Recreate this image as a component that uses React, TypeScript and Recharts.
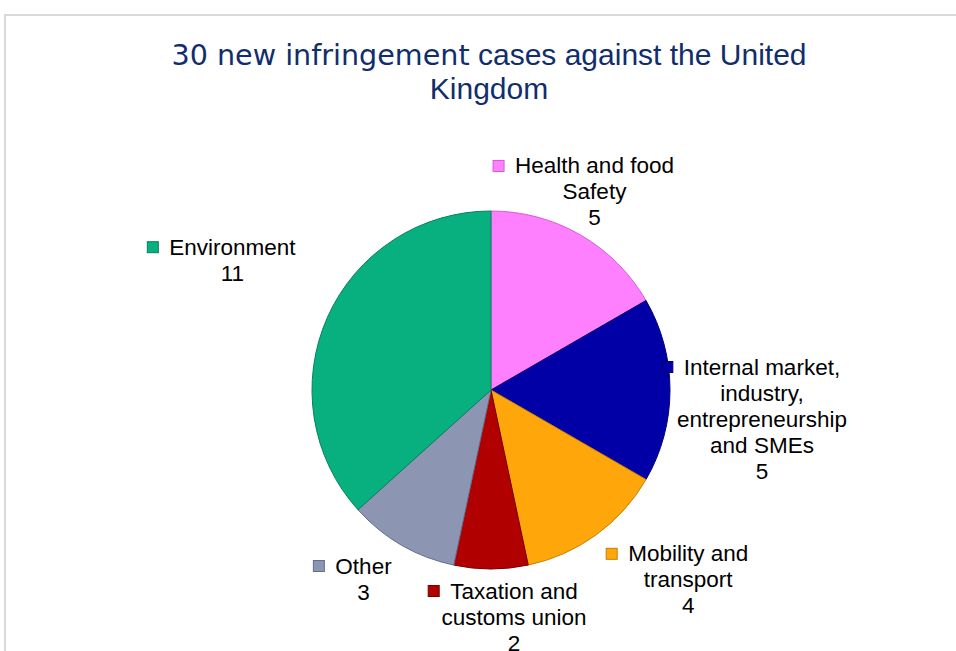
import React from "react";
import { PieChart, Pie, Cell } from "recharts";

// ---- data ----
const CATEGORIES = [
  "Health and food\nSafety",
  "Internal market,\nindustry,\nentrepreneurship\nand SMEs",
  "Mobility and\ntransport",
  "Taxation and\ncustoms union",
  "Other",
  "Environment",
];
const CASES = [5, 5, 4, 2, 3, 11];
const COLORS = ["#FF80FF", "#0000A6", "#FFA70A", "#B00000", "#8C95B2", "#08B080"];
const EDGE = ["#D65CD6", "#00006E", "#C97F00", "#7A0000", "#656D8A", "#06805C"];

// label block offsets from the slice's outer edge midpoint
const LABEL_OFFSETS = [
  [14, -43],
  [92, 29],
  [92, 45],
  [23, 48],
  [-38, 34],
  [-95, -57],
];

const TITLE_A = "30 new infringement";
const TITLE_B = " cases against the United";
const TITLE_2 = "Kingdom";

const FONT = "'Liberation Sans', Arial, sans-serif";
const LABEL_SIZE = 22.5;
const LINE_H = 26;

const chartData = CATEGORIES.map((c, i) => ({ name: c, value: CASES[i] }));

let ctx: CanvasRenderingContext2D | null = null;
const measure = (s: string) => {
  if (!ctx) ctx = document.createElement("canvas").getContext("2d");
  if (!ctx) return s.length * 11;
  ctx.font = `${LABEL_SIZE}px ${FONT}`;
  return ctx.measureText(s).width;
};

const renderLabel = (props: any) => {
  const { cx, cy, midAngle, outerRadius, index, value } = props;
  const RAD = Math.PI / 180;
  const ex = cx + outerRadius * Math.cos(-midAngle * RAD);
  const ey = cy + outerRadius * Math.sin(-midAngle * RAD);
  const [dx, dy] = LABEL_OFFSETS[index];
  const x = ex + dx;
  const y = ey + dy;
  const lines = [...CATEGORIES[index].split("\n"), String(value)];
  const y0 = y - ((lines.length - 1) * LINE_H) / 2;
  const w0 = measure(lines[0]);
  const mx = x - w0 / 2 - 11 - 11;
  return (
    <g key={`lbl-${index}`}>
      <rect
        x={mx}
        y={y0 - 5.5}
        width={11}
        height={11}
        fill={COLORS[index]}
        stroke={EDGE[index]}
        strokeWidth={1}
      />
      {lines.map((ln, i) => (
        <text
          key={i}
          x={x}
          y={y0 + i * LINE_H}
          textAnchor="middle"
          dominantBaseline="central"
          fontFamily={FONT}
          fontSize={LABEL_SIZE}
          fill="#000"
        >
          {ln}
        </text>
      ))}
    </g>
  );
};

export default function App() {
  return (
    <div
      style={{
        position: "fixed",
        left: 0,
        top: 0,
        width: 956,
        height: 651,
        overflow: "hidden",
        background: "#fff",
      }}
    >
      <div
        style={{
          position: "absolute",
          left: 4,
          top: 14,
          width: 1200,
          height: 900,
          borderLeft: "2px solid #d9d9d9",
          borderTop: "2px solid #d9d9d9",
        }}
      />
      <div
        style={{
          position: "absolute",
          left: 0,
          top: 38,
          width: 978,
          textAlign: "center",
          fontFamily: FONT,
          fontSize: 30,
          lineHeight: "33px",
          color: "#112D6E",
        }}
      >
        <span style={{ fontFamily: "'DejaVu Sans', Verdana, sans-serif", fontSize: 28.6 }}>
          {TITLE_A}
        </span>
        {TITLE_B}
        <br />
        {TITLE_2}
      </div>
      <div style={{ position: "absolute", left: 0, top: 0 }}>
        <PieChart width={956} height={651} margin={{ top: 0, right: 0, bottom: 0, left: 0 }}>
          <Pie
            data={chartData}
            dataKey="value"
            nameKey="name"
            cx={491}
            cy={390}
            outerRadius={179}
            startAngle={90}
            endAngle={-270}
            labelLine={false}
            label={renderLabel}
            isAnimationActive={false}
          >
            {chartData.map((_, i) => (
              <Cell key={i} fill={COLORS[i]} stroke={EDGE[i]} strokeWidth={1} />
            ))}
          </Pie>
        </PieChart>
      </div>
    </div>
  );
}
